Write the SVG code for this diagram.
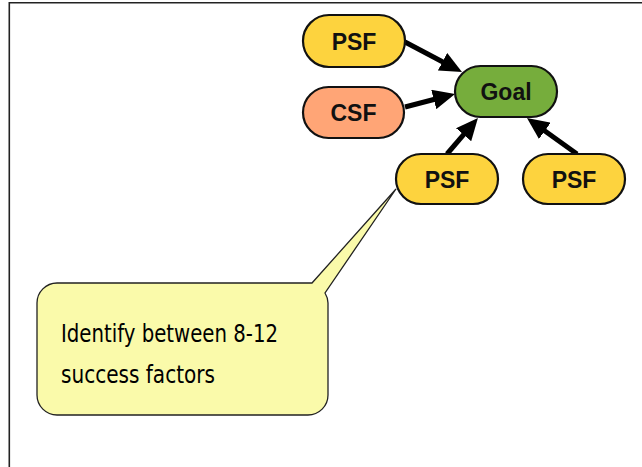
<svg xmlns="http://www.w3.org/2000/svg" width="642" height="467" viewBox="0 0 642 467">
  <style>
    .node rect { stroke: #111; stroke-width: 2.2; }
    .psf rect { fill: #FDD33E; }
    .csf rect { fill: #FFA576; }
    .goal rect { fill: #76AD3C; }
    .node text { font-family: "Liberation Sans", Arial, sans-serif; font-weight: bold; font-size: 23px; fill: #111; text-anchor: middle; }
    .edge { stroke: #000; stroke-width: 5; fill: none; marker-end: url(#head); }
    .note text { font-family: "DejaVu Sans", "Noto Sans", sans-serif; font-weight: normal; font-stretch: condensed; font-size: 25px; fill: #000; }
  </style>
  <defs>
    <marker id="head" viewBox="0 0 4.4 4" refX="0.4" refY="2" markerWidth="4.4" markerHeight="4" orient="auto" markerUnits="strokeWidth">
      <path d="M0,0 L4.4,2 L0,4 Z" fill="#000"/>
    </marker>
  </defs>

  <rect width="642" height="467" fill="#fff"/>
  <!-- slide frame -->
  <path d="M9.3,467 V2.7 H642" fill="none" stroke="#222" stroke-width="1.6"/>

  <!-- connectors -->
  <g id="connectors">
    <line class="edge" x1="405" y1="42" x2="444.3" y2="62.7"/>
    <line class="edge" x1="405" y1="107" x2="435.7" y2="99"/>
    <line class="edge" x1="447" y1="154" x2="464.9" y2="133.2"/>
    <line class="edge" x1="577" y1="154" x2="543.2" y2="129.7"/>
  </g>

  <g id="psf1" class="node psf">
    <rect x="303" y="15" width="102" height="52" rx="26"/>
    <text x="354" y="50">PSF</text>
  </g>
  <g id="csf" class="node csf">
    <rect x="303" y="87" width="101" height="51" rx="25.5"/>
    <text x="353.5" y="121">CSF</text>
  </g>
  <g id="goal" class="node goal">
    <rect x="455" y="66" width="102" height="51" rx="25.5"/>
    <text x="506" y="100">Goal</text>
  </g>
  <g id="psf2" class="node psf">
    <rect x="396" y="154" width="102" height="50" rx="25"/>
    <text x="447" y="187.5">PSF</text>
  </g>
  <g id="psf3" class="node psf">
    <rect x="523" y="154" width="102" height="50" rx="25"/>
    <text x="574" y="187.5">PSF</text>
  </g>

  <!-- callout pointing at the lower-left PSF -->
  <g id="note" class="note">
    <path d="M57,283 H312 L396,189 L325,293 A20,20 0 0 1 328,303 V395 A20,20 0 0 1 308,415 H57 A20,20 0 0 1 37,395 V303 A20,20 0 0 1 57,283 Z" fill="#FAFAAA" stroke="#222" stroke-width="1.3"/>
    <text x="61" y="342" textLength="217" lengthAdjust="spacingAndGlyphs">Identify between 8-12</text>
    <text x="61" y="383" textLength="154" lengthAdjust="spacingAndGlyphs">success factors</text>
  </g>
</svg>
